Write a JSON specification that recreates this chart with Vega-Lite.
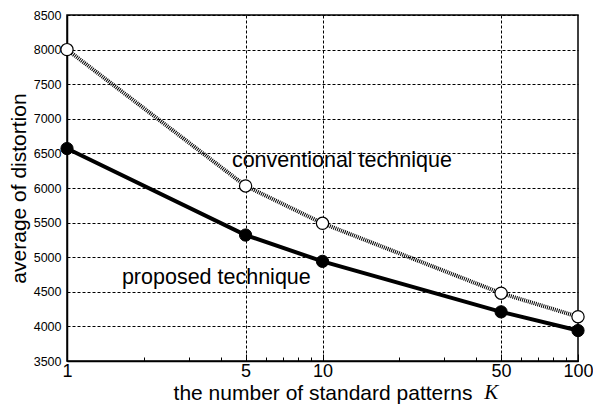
{
  "$schema": "https://vega.github.io/schema/vega-lite/v6.json",
  "width": 511,
  "height": 346,
  "autosize": {"type": "none"},
  "padding": {"left": 67, "top": 15, "right": 15, "bottom": 47},
  "background": "white",
  "config": {
    "view": {"stroke": "black", "strokeWidth": 1.5},
    "font": "Liberation Sans"
  },
  "datasets": {
    "pts": [
      {"K": 1, "distortion": 8000, "technique": "conventional"},
      {"K": 5, "distortion": 6030, "technique": "conventional"},
      {"K": 10, "distortion": 5490, "technique": "conventional"},
      {"K": 50, "distortion": 4480, "technique": "conventional"},
      {"K": 100, "distortion": 4140, "technique": "conventional"},
      {"K": 1, "distortion": 6570, "technique": "proposed"},
      {"K": 5, "distortion": 5320, "technique": "proposed"},
      {"K": 10, "distortion": 4940, "technique": "proposed"},
      {"K": 50, "distortion": 4210, "technique": "proposed"},
      {"K": 100, "distortion": 3940, "technique": "proposed"}
    ],
    "labels": [
      {"K": 4.42, "distortion": 6300, "text": "conventional technique"},
      {"K": 1.64, "distortion": 4615, "text": "proposed technique"}
    ],
    "kvar": [
      {"K": 45.8, "distortion": 2951, "text": "K"}
    ]
  },
  "layer": [
    {
      "data": {"name": "pts"},
      "transform": [{"filter": "datum.technique === 'conventional'"}],
      "mark": {"type": "line", "color": "black", "strokeWidth": 4, "strokeDash": [1, 1]},
      "encoding": {
        "x": {
          "field": "K", "type": "quantitative",
          "scale": {"type": "log", "domain": [1, 100], "nice": false},
          "axis": {
            "title": "the number of standard patterns",
            "values": [1, 2, 3, 4, 5, 6, 7, 8, 9, 10, 20, 30, 40, 50, 60, 70, 80, 90, 100],
            "tickCount": 30,
            "labelExpr": "indexof([1, 5, 10, 50, 100], datum.value) >= 0 ? datum.label : ''",
            "labelOverlap": false,
            "labelFlush": false,
            "labelFontSize": 18,
            "labelColor": "black",
            "labelPadding": 8,
            "titleFontSize": 21,
            "titleFontWeight": "normal",
            "titleColor": "black",
            "titleBaseline": "alphabetic",
            "titleY": 38,
            "domainColor": "black",
            "domainWidth": 1.5,
            "tickColor": "black",
            "tickSize": {"condition": {"test": "indexof([1, 5, 10, 50, 100], datum.value) >= 0", "value": -7}, "value": -4},
            "grid": true,
            "gridColor": "black",
            "gridDash": [3, 2],
            "gridWidth": 1,
            "gridOpacity": {"condition": {"test": "datum.value == 5 || datum.value == 10 || datum.value == 50", "value": 1}, "value": 0}
          }
        },
        "y": {
          "field": "distortion", "type": "quantitative",
          "scale": {"domain": [3500, 8500], "nice": false, "zero": false},
          "axis": {
            "title": "average of distortion",
            "values": [3500, 4000, 4500, 5000, 5500, 6000, 6500, 7000, 7500, 8000, 8500],
            "tickCount": 20,
            "format": "d",
            "labelOverlap": false,
            "labelFontSize": 12.5,
            "labelColor": "black",
            "labelPadding": 6,
            "ticks": false,
            "titleFontSize": 21,
            "titleFontWeight": "normal",
            "titleColor": "black",
            "titleBaseline": "alphabetic",
            "titleX": -42,
            "domainColor": "black",
            "domainWidth": 1.5,
            "grid": true,
            "gridColor": "black",
            "gridDash": [3, 2],
            "gridWidth": 1
          }
        }
      }
    },
    {
      "data": {"name": "pts"},
      "transform": [{"filter": "datum.technique === 'proposed'"}],
      "mark": {"type": "line", "color": "black", "strokeWidth": 4},
      "encoding": {
        "x": {"field": "K", "type": "quantitative"},
        "y": {"field": "distortion", "type": "quantitative"}
      }
    },
    {
      "data": {"name": "pts"},
      "transform": [{"filter": "datum.technique === 'conventional'"}],
      "mark": {"type": "point", "shape": "circle", "filled": true, "fill": "white", "stroke": "black", "strokeWidth": 1.2, "size": 150, "opacity": 1},
      "encoding": {
        "x": {"field": "K", "type": "quantitative"},
        "y": {"field": "distortion", "type": "quantitative"}
      }
    },
    {
      "data": {"name": "pts"},
      "transform": [{"filter": "datum.technique === 'proposed'"}],
      "mark": {"type": "point", "shape": "circle", "filled": true, "fill": "black", "stroke": "black", "strokeWidth": 1, "size": 150, "opacity": 1},
      "encoding": {
        "x": {"field": "K", "type": "quantitative"},
        "y": {"field": "distortion", "type": "quantitative"}
      }
    },
    {
      "data": {"name": "labels"},
      "mark": {"type": "text", "align": "left", "baseline": "alphabetic", "fontSize": 21.5, "font": "Liberation Sans", "color": "black"},
      "encoding": {
        "x": {"field": "K", "type": "quantitative"},
        "y": {"field": "distortion", "type": "quantitative"},
        "text": {"field": "text"}
      }
    },
    {
      "data": {"name": "kvar"},
      "mark": {"type": "text", "align": "center", "baseline": "alphabetic", "fontSize": 21, "font": "Liberation Serif", "fontStyle": "italic", "color": "black", "clip": false},
      "encoding": {
        "x": {"field": "K", "type": "quantitative"},
        "y": {"field": "distortion", "type": "quantitative"},
        "text": {"field": "text"}
      }
    }
  ]
}
